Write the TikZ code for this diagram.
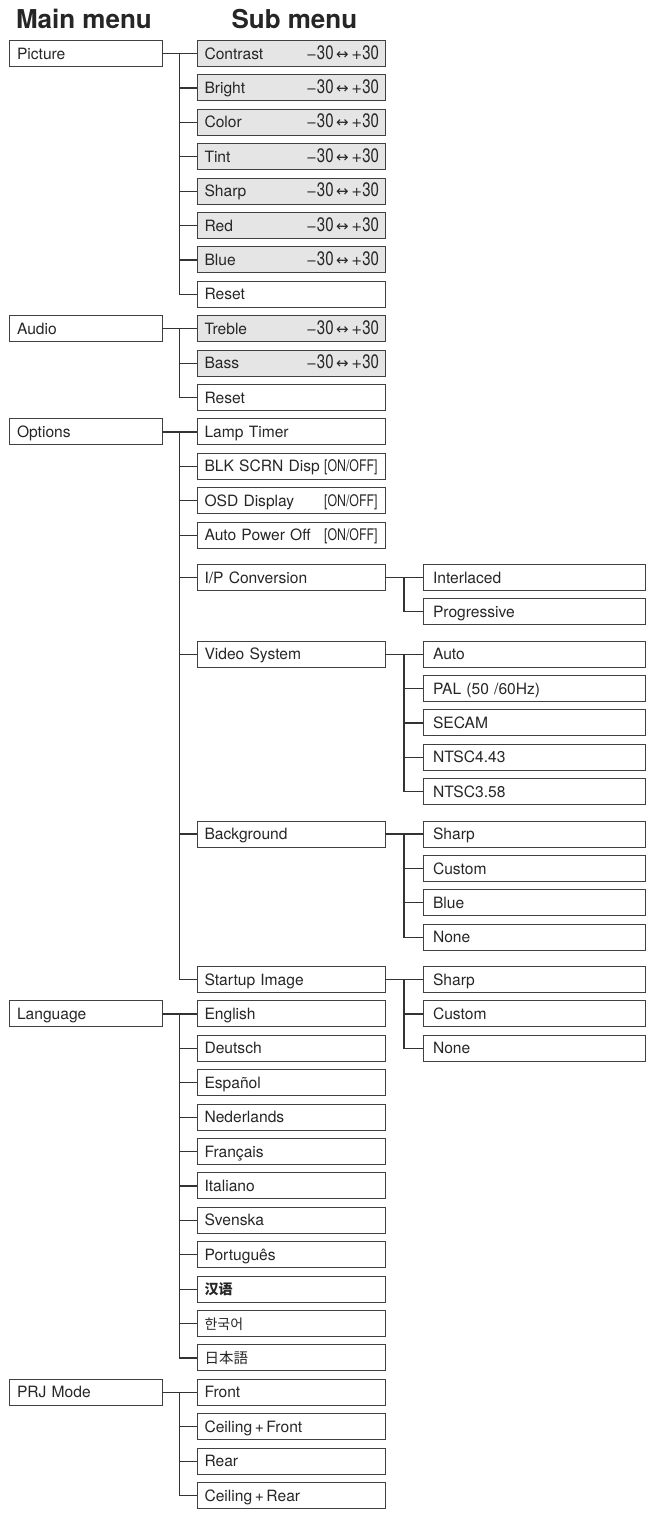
\documentclass[tikz,border=0pt]{standalone}
\usepackage{fontspec}
\setmainfont{TeX Gyre Heros}
\newfontfamily\condfont[FakeStretch=0.77]{TeX Gyre Heros}
\newfontfamily\arrowfont{DejaVu Sans}
\newfontfamily\cjksc{Noto Sans CJK SC}
\newfontfamily\cjkkr{Noto Sans CJK KR}
\newfontfamily\cjkjp{Noto Sans CJK JP}
\usetikzlibrary{positioning, calc}

% value ranges printed at the right end of a box
\newcommand{\rangeval}{{\arrowfont\fontsize{13}{16}\selectfont −}%
  {\condfont\fontsize{19.5}{20}\selectfont 30}\,%
  {\arrowfont\fontsize{15}{16}\selectfont ↔}\,%
  {\arrowfont\fontsize{13}{16}\selectfont +}%
  {\condfont\fontsize{19.5}{20}\selectfont 30}}
\newcommand{\onoff}{{\condfont\fontsize{16}{18}\selectfont [ON/OFF]}}

\begin{document}
\begin{tikzpicture}[
    x=1pt, y=1pt,
    % --- Global styles ---
    node distance=8.4pt and 35pt,
    every node/.style={font=\fontsize{15.6}{18}\selectfont, text=black!85},
    % --- Menu boxes ---
    box/.style={
      draw=black!75, line width=0.9pt, outer sep=0pt,
      text height=11.2pt, text depth=0pt, inner ysep=7.4pt,
      align=left,
    },
    mainbox/.style={box, inner xsep=8pt, text width=137pt},
    subbox/.style={box, inner xsep=7.5pt, text width=173pt},
    rangebox/.style={subbox, fill=black!10, inner xsep=6pt, text width=176pt},
    leafbox/.style={box, inner xsep=10pt, text width=202pt},
    % --- Connector style ---
    link/.style={draw=black!80, line width=1.2pt},
    % --- Heading style ---
    title/.style={font=\fontsize{26}{30}\selectfont\bfseries, text=black!85},
  ]
  \useasboundingbox (0,0) rectangle (649,-1515);

  %% ---- Nodes (top to bottom) ----

  % Picture
  \node[mainbox, anchor=north west] (picture) at (9,-40.5) {Picture};
  \node[rangebox, right=of picture] (contrast) {\hspace{1.5pt}Contrast\hfill\rangeval};
  \node[rangebox, below=of contrast] (bright) {\hspace{1.5pt}Bright\hfill\rangeval};
  \node[rangebox, below=of bright] (color) {\hspace{1.5pt}Color\hfill\rangeval};
  \node[rangebox, below=of color] (tint) {\hspace{1.5pt}Tint\hfill\rangeval};
  \node[rangebox, below=of tint] (sharp) {\hspace{1.5pt}Sharp\hfill\rangeval};
  \node[rangebox, below=of sharp] (red) {\hspace{1.5pt}Red\hfill\rangeval};
  \node[rangebox, below=of red] (blue) {\hspace{1.5pt}Blue\hfill\rangeval};
  \node[subbox, below=of blue] (picreset) {Reset};

  % Audio
  \node[rangebox, below=of picreset] (treble) {\hspace{1.5pt}Treble\hfill\rangeval};
  \node[mainbox, left=of treble] (audio) {Audio};
  \node[rangebox, below=of treble] (bass) {\hspace{1.5pt}Bass\hfill\rangeval};
  \node[subbox, below=of bass] (audreset) {Reset};

  % Options
  \node[subbox, below=of audreset] (lamp) {Lamp Timer};
  \node[mainbox, left=of lamp] (options) {Options};
  \node[subbox, below=of lamp] (blk) {BLK SCRN Disp\hfill\onoff};
  \node[subbox, below=of blk] (osd) {OSD Display\hfill\onoff};
  \node[subbox, below=of osd] (autooff) {Auto Power Off\hfill\onoff};

  % I/P Conversion
  \node[subbox, below=16.3pt of autooff] (ipconv) {I/P Conversion};
  \node[leafbox, right=38pt of ipconv] (interlaced) {Interlaced};
  \node[leafbox, below=of interlaced] (progressive) {Progressive};

  % Video System
  \node[subbox, below=50.7pt of ipconv] (video) {Video System};
  \node[leafbox, right=38pt of video] (vsauto) {Auto};
  \node[leafbox, below=of vsauto] (pal) {PAL (50 /60Hz)};
  \node[leafbox, below=of pal] (secam) {SECAM};
  \node[leafbox, below=of secam] (ntsca) {NTSC4.43};
  \node[leafbox, below=of ntsca] (ntscb) {NTSC3.58};

  % Background
  \node[subbox, below=153.9pt of video] (background) {Background};
  \node[leafbox, right=38pt of background] (bgsharp) {Sharp};
  \node[leafbox, below=of bgsharp] (bgcustom) {Custom};
  \node[leafbox, below=of bgcustom] (bgblue) {Blue};
  \node[leafbox, below=of bgblue] (bgnone) {None};

  % Startup Image
  \node[subbox, below=119.5pt of background] (startup) {Startup Image};
  \node[leafbox, right=38pt of startup] (susharp) {Sharp};
  \node[leafbox, below=of susharp] (sucustom) {Custom};
  \node[leafbox, below=of sucustom] (sunone) {None};

  % Language
  \node[subbox, below=of startup] (english) {English};
  \node[mainbox, left=of english] (language) {Language};
  \node[subbox, below=of english] (deutsch) {Deutsch};
  \node[subbox, below=of deutsch] (espanol) {Español};
  \node[subbox, below=of espanol] (nederlands) {Nederlands};
  \node[subbox, below=of nederlands] (francais) {Français};
  \node[subbox, below=of francais] (italiano) {Italiano};
  \node[subbox, below=of italiano] (svenska) {Svenska};
  \node[subbox, below=of svenska] (portugues) {Português};
  \node[subbox, below=of portugues] (chinese)
    {\cjksc\bfseries\fontsize{14}{16}\selectfont 汉语};
  \node[subbox, below=of chinese] (korean)
    {\cjkkr\fontsize{14}{16}\selectfont 한국어};
  \node[subbox, below=of korean] (japanese)
    {\cjkjp\fontsize{14.5}{16}\selectfont 日本語};

  % PRJ Mode
  \node[subbox, below=of japanese] (front) {Front};
  \node[mainbox, left=of front] (prj) {PRJ Mode};
  \node[subbox, below=of front] (ceilfront) {Ceiling\,+\,Front};
  \node[subbox, below=of ceilfront] (rear) {Rear};
  \node[subbox, below=of rear] (ceilrear) {Ceiling\,+\,Rear};

  % Headings
  \node[title, anchor=base west] (maintitle)
    at ([xshift=3.5pt, yshift=12.3pt]picture.north west) {Main menu};
  \node[title, anchor=base west] (subtitle)
    at ([xshift=31pt, yshift=12.3pt]contrast.north west) {Sub menu};

  %% ---- Connectors ----

  \draw[link] (picture) -- (contrast);
  \foreach \c in {bright,color,tint,sharp,red,blue,picreset}
    \draw[link] ($(picture.east)!0.5!(contrast.west)$) |- (\c.west);

  \draw[link] (audio) -- (treble);
  \foreach \c in {bass,audreset}
    \draw[link] ($(audio.east)!0.5!(treble.west)$) |- (\c.west);

  \draw[link] (options) -- (lamp);
  \foreach \c in {blk,osd,autooff,ipconv,video,background,startup}
    \draw[link] ($(options.east)!0.5!(lamp.west)$) |- (\c.west);

  \draw[link] (ipconv) -- (interlaced);
  \draw[link] ($(ipconv.east)!0.5!(interlaced.west)$) |- (progressive.west);

  \draw[link] (video) -- (vsauto);
  \foreach \c in {pal,secam,ntsca,ntscb}
    \draw[link] ($(video.east)!0.5!(vsauto.west)$) |- (\c.west);

  \draw[link] (background) -- (bgsharp);
  \foreach \c in {bgcustom,bgblue,bgnone}
    \draw[link] ($(background.east)!0.5!(bgsharp.west)$) |- (\c.west);

  \draw[link] (startup) -- (susharp);
  \foreach \c in {sucustom,sunone}
    \draw[link] ($(startup.east)!0.5!(susharp.west)$) |- (\c.west);

  \draw[link] (language) -- (english);
  \foreach \c in {deutsch,espanol,nederlands,francais,italiano,svenska,
                  portugues,chinese,korean,japanese}
    \draw[link] ($(language.east)!0.5!(english.west)$) |- (\c.west);

  \draw[link] (prj) -- (front);
  \foreach \c in {ceilfront,rear,ceilrear}
    \draw[link] ($(prj.east)!0.5!(front.west)$) |- (\c.west);

\end{tikzpicture}
\end{document}
